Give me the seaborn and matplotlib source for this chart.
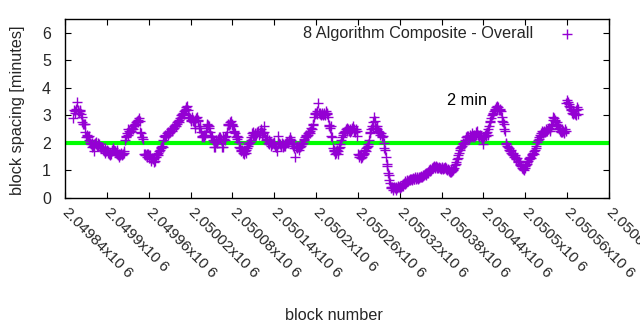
import numpy as np
import pandas as pd
import matplotlib
matplotlib.use("Agg")
import matplotlib.pyplot as plt
import seaborn as sns

sns.set_theme(style="white")
plt.rcParams['font.family'] = ['Liberation Sans', 'DejaVu Sans']

first_block = 2049852
spacing = [
    2.9, 3.2, 3.15, 3.1, 3.25, 3.5, 3.2, 3.15, 3.1, 3.2,
    3.15, 3.05, 2.95, 2.75, 2.7, 2.68, 2.7, 2.4, 2.2, 2.25,
    2.3, 2.2, 2.25, 2.1, 2.0, 1.95, 2.0, 1.85, 1.9, 1.72,
    1.95, 2.0, 2.05, 1.95, 1.9, 2.0, 1.9, 1.95, 1.85, 1.8,
    1.85, 1.85, 1.75, 1.8, 1.7, 1.8, 1.65, 1.7, 1.75, 1.7,
    1.65, 1.6, 1.55, 1.65, 1.6, 1.7, 1.75, 1.8, 1.75, 1.7,
    1.7, 1.65, 1.75, 1.6, 1.55, 1.5, 1.6, 1.55, 1.65, 1.6,
    1.55, 1.6, 1.7, 1.65, 2.1, 2.25, 2.2, 2.35, 2.3, 2.5,
    2.45, 2.4, 2.5, 2.45, 2.55, 2.5, 2.6, 2.65, 2.7, 2.65,
    2.75, 2.8, 2.75, 2.85, 2.9, 2.8, 2.4, 2.35, 2.2, 2.2,
    2.15, 1.6, 1.55, 1.6, 1.55, 1.6, 1.5, 1.6, 1.55, 1.45,
    1.55, 1.4, 1.35, 1.45, 1.4, 1.3, 1.45, 1.35, 1.5, 1.55,
    1.6, 1.55, 1.65, 1.7, 1.75, 1.8, 1.85, 1.9, 1.85, 2.1,
    2.25, 2.2, 2.3, 2.25, 2.35, 2.3, 2.4, 2.35, 2.45, 2.4,
    2.5, 2.45, 2.55, 2.5, 2.6, 2.55, 2.65, 2.6, 2.7, 2.75,
    2.8, 2.75, 2.85, 2.9, 3.0, 2.9, 3.05, 3.1, 3.05, 3.15,
    3.2, 3.25, 3.3, 3.35, 3.2, 3.0, 2.95, 2.9, 2.85, 2.8,
    2.95, 2.85, 2.8, 2.75, 2.55, 2.85, 2.9, 2.95, 2.85, 2.8,
    2.55, 2.6, 2.55, 2.4, 2.25, 2.2, 2.25, 2.3, 2.2, 2.3,
    2.45, 2.6, 2.7, 2.65, 2.55, 2.6, 2.4, 2.25, 2.2, 2.25,
    2.1, 2.05, 1.85, 1.85, 2.05, 2.1, 2.0, 2.1, 2.15, 2.2,
    2.2, 2.1, 2.15, 1.85, 1.85, 2.2, 2.15, 2.1, 2.2, 2.25,
    2.4, 2.65, 2.7, 2.65, 2.75, 2.7, 2.8, 2.65, 2.7, 2.6,
    2.45, 2.4, 2.35, 2.2, 2.25, 2.15, 2.2, 2.05, 1.85, 1.8,
    1.75, 1.7, 1.75, 1.65, 1.7, 1.6, 1.7, 1.65, 1.75, 1.8,
    1.95, 1.9, 2.0, 2.05, 2.1, 2.2, 2.35, 2.3, 2.4, 2.3,
    2.25, 2.35, 2.3, 2.4, 2.35, 2.45, 2.3, 2.4, 2.35, 2.5,
    2.4, 2.3, 2.35, 2.6, 2.4, 2.2, 2.1, 2.15, 2.2, 2.0,
    1.95, 2.1, 2.05, 2.0, 1.9, 1.95, 2.0, 1.95, 2.05, 1.9,
    1.85, 1.85, 1.7, 1.95, 2.25, 2.0, 1.95, 1.9, 1.9, 2.0,
    1.95, 1.85, 1.9, 1.9, 1.95, 2.0, 2.05, 2.05, 2.0, 2.1,
    2.2, 2.15, 2.1, 1.95, 2.0, 1.9, 1.95, 1.8, 1.5, 1.85,
    1.9, 1.8, 1.85, 1.75, 1.9, 1.85, 1.95, 1.9, 1.95, 2.0,
    2.1, 2.15, 2.2, 2.25, 2.3, 2.25, 2.35, 2.3, 2.4, 2.35,
    2.45, 2.55, 2.5, 2.65, 2.7, 2.95, 3.1, 3.05, 3.1, 3.15,
    3.05, 3.45, 3.1, 3.05, 3.1, 3.0, 3.05, 3.1, 3.0, 3.05,
    3.1, 3.0, 3.15, 3.05, 3.1, 2.95, 2.65, 2.6, 2.55, 2.6,
    2.25, 2.2, 1.8, 1.7, 1.75, 1.6, 1.7, 1.65, 1.75, 1.7,
    1.6, 1.8, 1.85, 1.95, 2.1, 2.2, 2.3, 2.35, 2.4, 2.45,
    2.4, 2.5, 2.45, 2.55, 2.5, 2.45, 2.4, 2.5, 2.45, 2.55,
    2.5, 2.6, 2.45, 2.5, 2.4, 2.5, 2.45, 2.25, 1.6, 1.55,
    1.5, 1.55, 1.45, 1.6, 1.5, 1.55, 1.6, 1.65, 1.75, 1.7,
    1.8, 1.85, 1.95, 1.9, 2.1, 2.35, 2.4, 2.5, 2.6, 2.55,
    2.75, 2.95, 2.8, 2.6, 2.55, 2.6, 2.5, 2.45, 2.4, 2.35,
    2.3, 2.35, 2.25, 2.2, 2.25, 2.0, 1.8, 1.75, 1.5, 1.25,
    1.15, 0.9, 0.85, 0.65, 0.55, 0.4, 0.35, 0.4, 0.3, 0.35,
    0.4, 0.35, 0.3, 0.4, 0.35, 0.4, 0.45, 0.4, 0.35, 0.45,
    0.4, 0.45, 0.5, 0.45, 0.55, 0.5, 0.6, 0.55, 0.6, 0.65,
    0.6, 0.65, 0.7, 0.65, 0.7, 0.65, 0.7, 0.72, 0.68, 0.7,
    0.75, 0.7, 0.72, 0.75, 0.7, 0.75, 0.72, 0.78, 0.75, 0.8,
    0.78, 0.82, 0.8, 0.85, 0.88, 0.85, 0.9, 0.92, 0.9, 0.95,
    1.0, 0.98, 1.05, 1.02, 1.08, 1.1, 1.12, 1.15, 1.12, 1.1,
    1.15, 1.12, 1.08, 1.1, 1.12, 1.08, 1.1, 1.05, 1.12, 1.1,
    1.05, 1.1, 1.08, 1.12, 1.05, 1.1, 1.0, 1.05, 0.98, 1.02,
    0.95, 1.0, 0.95, 0.98, 1.05, 1.0, 1.1, 1.2, 1.25, 1.3,
    1.4, 1.45, 1.55, 1.65, 1.75, 1.8, 1.85, 1.9, 1.95, 2.0,
    1.95, 2.05, 2.1, 2.2, 2.25, 2.2, 2.25, 2.15, 2.2, 2.3,
    2.25, 2.2, 2.35, 2.25, 2.2, 2.3, 2.25, 2.4, 2.3, 2.45,
    2.3, 2.2, 2.25, 2.3, 2.2, 2.25, 2.15, 2.2, 1.95, 2.2,
    2.3, 2.25, 2.35, 2.4, 2.3, 2.5, 2.6, 2.75, 2.8, 2.9,
    3.0, 3.05, 3.1, 3.15, 3.2, 3.25, 3.3, 3.25, 3.35, 3.3,
    3.2, 3.25, 3.2, 3.15, 2.95, 2.8, 2.75, 2.7, 2.5, 2.45,
    2.0, 1.95, 1.9, 1.85, 1.8, 1.75, 1.7, 1.75, 1.65, 1.6,
    1.65, 1.55, 1.5, 1.55, 1.45, 1.4, 1.45, 1.35, 1.3, 1.35,
    1.25, 1.2, 1.15, 1.1, 1.05, 1.1, 1.0, 1.1, 1.15, 1.2,
    1.25, 1.3, 1.35, 1.4, 1.45, 1.5, 1.45, 1.55, 1.6, 1.65,
    1.6, 1.7, 1.75, 1.8, 1.9, 2.05, 2.1, 2.15, 2.2, 2.3,
    2.25, 2.35, 2.45, 2.4, 2.35, 2.45, 2.4, 2.5, 2.45, 2.45,
    2.5, 2.5, 2.55, 2.45, 2.5, 2.6, 2.7, 2.85, 2.95, 2.9,
    2.8, 2.85, 2.7, 2.75, 2.65, 2.6, 2.55, 2.5, 2.45, 2.4,
    2.5, 2.4, 2.45, 2.35, 2.4, 2.5, 2.45, 3.45, 3.55, 3.5,
    3.4, 3.35, 3.3, 3.25, 3.2, 3.1, 3.05, 3.15, 3.1, 3.05,
    3.0, 3.2, 3.3, 3.25, 3.05,
]
blocks = np.arange(first_block, first_block + len(spacing))

x_ticks = [2049840, 2049900, 2049960, 2050020, 2050080, 2050140, 2050200,
           2050260, 2050320, 2050380, 2050440, 2050500, 2050560, 2050620]
y_ticks = [0, 1, 2, 3, 4, 5, 6]
target_minutes = 2
series_label = "8 Algorithm Composite - Overall"
target_label = "2 min"

df = pd.DataFrame({"block": blocks, "spacing": spacing})

fig = plt.figure(figsize=(6.4, 3.3), dpi=100)
ax = fig.add_axes([65/640, 1 - 198/330, 544/640, 179/330])

ax.axhline(target_minutes, color="#00ff00", lw=3.0, zorder=1)
sns.scatterplot(data=df, x="block", y="spacing", ax=ax, marker="+",
                color="#9400d3", s=45, linewidth=1.0, label=series_label,
                zorder=2)

ax.set_xlim(x_ticks[0], x_ticks[-1])
ax.set_ylim(0, 6.5)
ax.set_xticks(x_ticks)
ax.set_xticklabels([f"{v/1e6:g}x10 6" for v in x_ticks],
                   rotation=-45, ha="left", va="center", rotation_mode="anchor",
                   fontsize=11)
ax.set_yticks(y_ticks)
ax.set_yticklabels([str(v) for v in y_ticks], fontsize=11.5)
ax.tick_params(axis="both", direction="in", length=4, width=0.8,
               top=True, right=True, bottom=True, left=True, color="black")
ax.tick_params(axis="x", pad=9)
ax.tick_params(axis="y", pad=10)
for s in ax.spines.values():
    s.set_color("black")
    s.set_linewidth(1.0)

ax.set_xlabel("block number", fontsize=11.7)
ax.xaxis.label.set_va("center")
ax.xaxis.set_label_coords((334 - 65) / 544, -(316 - 198) / 179)
ax.set_ylabel("block spacing [minutes]", fontsize=11.7)
ax.yaxis.label.set_va("center")
ax.yaxis.set_label_coords(-(65 - 18) / 544, (198 - 110) / 179)

ax.text(2050388, 3.53, target_label, fontsize=11.7, ha="left", va="center",
        color="black")

leg = ax.legend(loc="upper right", frameon=False, markerfirst=False,
                fontsize=11.7, handletextpad=1.1, borderaxespad=0.0,
                bbox_to_anchor=((590 - 65) / 544, 0.995))

fig.savefig("out.png", dpi=100)
